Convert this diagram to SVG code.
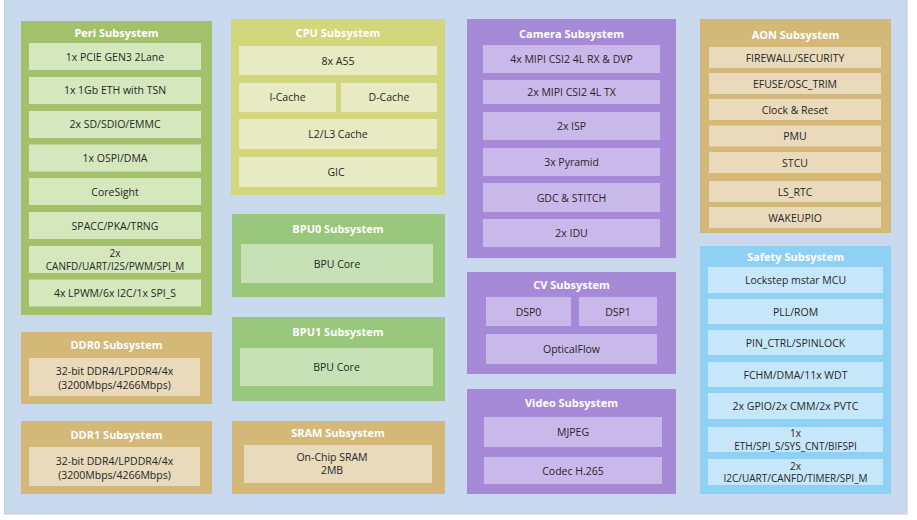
<svg xmlns="http://www.w3.org/2000/svg" width="917" height="520" viewBox="0 0 917 520">
<style>
text{font-family:"Open Sans","Noto Sans","Liberation Sans",sans-serif;font-size:10.5px;fill:#262626;text-anchor:middle;dominant-baseline:central}
.t{font-weight:bold;fill:#ffffff;font-size:11px}
.s{font-size:10px}
.g1{fill:#A3C16A}.g1i{fill:#D5E8BD}
.tan{fill:#D3B877}.tani{fill:#E8DABA}
.cpu{fill:#D2D67C}.cpui{fill:#E7EAC2}
.bpu{fill:#99C87C}.bpui{fill:#C6E1B5}
.pur{fill:#A68AD8}.puri{fill:#C9B9EA}
.sky{fill:#8FD0F5}.skyi{fill:#C6E6FA}
</style>
<rect x="0" y="0" width="917" height="520" fill="#ffffff"/>
<rect x="4.5" y="-1" width="902.5" height="515" fill="#C9D9EE" stroke="#C4C8D0" stroke-width="1"/>

<g id="peri">
<rect class="g1" x="21" y="21" width="191" height="294"/>
<text class="t" x="116.5" y="32">Peri Subsystem</text>
<rect class="g1i" x="29" y="43" width="172" height="27"/><text x="115" y="56.5">1x PCIE GEN3 2Lane</text>
<rect class="g1i" x="29" y="77" width="172" height="27"/><text x="115" y="90">1x 1Gb ETH with TSN</text>
<rect class="g1i" x="29" y="111" width="172" height="27"/><text x="115" y="124">2x SD/SDIO/EMMC</text>
<rect class="g1i" x="29" y="144.5" width="172" height="27"/><text x="115" y="158">1x OSPI/DMA</text>
<rect class="g1i" x="29" y="178" width="172" height="27"/><text x="115" y="191.5">CoreSight</text>
<rect class="g1i" x="29" y="212" width="172" height="27"/><text x="115" y="225.5">SPACC/PKA/TRNG</text>
<rect class="g1i" x="29" y="246" width="172" height="27"/><text class="s" x="115" y="253">2x</text><text class="s" x="115" y="265.5">CANFD/UART/I2S/PWM/SPI_M</text>
<rect class="g1i" x="29" y="279.5" width="172" height="27"/><text x="115" y="293">4x LPWM/6x I2C/1x SPI_S</text>
</g>

<g id="ddr0">
<rect class="tan" x="21" y="332" width="191" height="72"/>
<text class="t" x="116.5" y="344">DDR0 Subsystem</text>
<rect class="tani" x="29" y="358" width="171" height="38"/>
<text x="114.5" y="371">32-bit DDR4/LPDDR4/4x</text><text x="114.5" y="384.5">(3200Mbps/4266Mbps)</text>
</g>

<g id="ddr1">
<rect class="tan" x="21" y="421" width="191" height="73"/>
<text class="t" x="116.5" y="434">DDR1 Subsystem</text>
<rect class="tani" x="29" y="447" width="171" height="39"/>
<text x="114.5" y="461">32-bit DDR4/LPDDR4/4x</text><text x="114.5" y="474.5">(3200Mbps/4266Mbps)</text>
</g>

<g id="cpu">
<rect class="cpu" x="231" y="19" width="214" height="176"/>
<text class="t" x="338" y="32">CPU Subsystem</text>
<rect class="cpui" x="239" y="46" width="198" height="29"/><text x="338" y="60.5">8x A55</text>
<rect class="cpui" x="239" y="83" width="97" height="29"/><text x="287.5" y="97">I-Cache</text>
<rect class="cpui" x="341" y="83" width="96" height="29"/><text x="389" y="97">D-Cache</text>
<rect class="cpui" x="239" y="119" width="198" height="30"/><text x="338" y="134">L2/L3 Cache</text>
<rect class="cpui" x="239" y="157" width="198" height="30"/><text x="336" y="171.5">GIC</text>
</g>

<g id="bpu0">
<rect class="bpu" x="232" y="214" width="213" height="83"/>
<text class="t" x="338" y="228">BPU0 Subsystem</text>
<rect class="bpui" x="241" y="244" width="192" height="39"/><text x="337" y="264">BPU Core</text>
</g>

<g id="bpu1">
<rect class="bpu" x="232" y="317" width="213" height="84"/>
<text class="t" x="338" y="331">BPU1 Subsystem</text>
<rect class="bpui" x="240" y="348" width="193" height="38"/><text x="336.5" y="367">BPU Core</text>
</g>

<g id="sram">
<rect class="tan" x="232" y="421" width="213" height="73"/>
<text class="t" x="338" y="432">SRAM Subsystem</text>
<rect class="tani" x="244" y="445" width="188" height="38"/>
<text x="332" y="457">On-Chip SRAM</text><text x="332" y="470">2MB</text>
</g>

<g id="camera">
<rect class="pur" x="467" y="19" width="209" height="239"/>
<text class="t" x="571.5" y="33">Camera Subsystem</text>
<rect class="puri" x="483" y="45" width="177" height="28"/><text x="571.5" y="59">4x MIPI CSI2 4L RX &amp; DVP</text>
<rect class="puri" x="483" y="80" width="177" height="24"/><text x="571.5" y="92">2x MIPI CSI2 4L TX</text>
<rect class="puri" x="483" y="112" width="177" height="28"/><text x="571.5" y="126">2x ISP</text>
<rect class="puri" x="483" y="148" width="177" height="28"/><text x="571.5" y="161.5">3x Pyramid</text>
<rect class="puri" x="483" y="183" width="177" height="29"/><text x="571.5" y="197.5">GDC &amp; STITCH</text>
<rect class="puri" x="483" y="219" width="177" height="28"/><text x="571.5" y="232.5">2x IDU</text>
</g>

<g id="cv">
<rect class="pur" x="467" y="272" width="209" height="102"/>
<text class="t" x="571.5" y="284">CV Subsystem</text>
<rect class="puri" x="486" y="297" width="85" height="29"/><text x="528.5" y="311.5">DSP0</text>
<rect class="puri" x="579" y="297" width="78" height="29"/><text x="618" y="311.5">DSP1</text>
<rect class="puri" x="486" y="334" width="171" height="30"/><text x="571.5" y="349">OpticalFlow</text>
</g>

<g id="video">
<rect class="pur" x="467" y="389" width="209" height="105"/>
<text class="t" x="571.5" y="402">Video Subsystem</text>
<rect class="puri" x="484" y="417" width="178" height="30"/><text x="573" y="432">MJPEG</text>
<rect class="puri" x="484" y="457" width="178" height="27"/><text x="573" y="470.5">Codec H.265</text>
</g>

<g id="aon">
<rect class="tan" x="700" y="19" width="191" height="214"/>
<text class="t" x="795.5" y="34">AON Subsystem</text>
<rect class="tani" x="709" y="47" width="172" height="21"/><text x="795" y="57.5">FIREWALL/SECURITY</text>
<rect class="tani" x="709" y="73" width="172" height="21"/><text x="795" y="83.5">EFUSE/OSC_TRIM</text>
<rect class="tani" x="709" y="99" width="172" height="21"/><text x="795" y="109.5">Clock &amp; Reset</text>
<rect class="tani" x="709" y="125.5" width="172" height="21"/><text x="795" y="136">PMU</text>
<rect class="tani" x="709" y="152" width="172" height="21"/><text x="795" y="162.5">STCU</text>
<rect class="tani" x="709" y="181" width="172" height="21"/><text x="795" y="191.5">LS_RTC</text>
<rect class="tani" x="709" y="207" width="172" height="21"/><text x="795" y="217.5">WAKEUPIO</text>
</g>

<g id="safety">
<rect class="sky" x="700" y="246" width="191" height="248"/>
<text class="t" x="795.5" y="256">Safety Subsystem</text>
<rect class="skyi" x="708" y="267" width="175" height="26"/><text x="795.5" y="280">Lockstep mstar MCU</text>
<rect class="skyi" x="708" y="299" width="175" height="25"/><text x="795.5" y="311.5">PLL/ROM</text>
<rect class="skyi" x="708" y="330" width="175" height="25"/><text x="795.5" y="342.5">PIN_CTRL/SPINLOCK</text>
<rect class="skyi" x="708" y="362" width="175" height="25"/><text x="795.5" y="374.5">FCHM/DMA/11x WDT</text>
<rect class="skyi" x="708" y="393" width="175" height="26"/><text x="795.5" y="406">2x GPIO/2x CMM/2x PVTC</text>
<rect class="skyi" x="708" y="427" width="175" height="25"/><text class="s" x="795.5" y="433">1x</text><text class="s" x="795.5" y="445.5">ETH/SPI_S/SYS_CNT/BIFSPI</text>
<rect class="skyi" x="708" y="459" width="175" height="26"/><text class="s" x="795.5" y="465.5">2x</text><text class="s" x="795.5" y="478">I2C/UART/CANFD/TIMER/SPI_M</text>
</g>

<g id="connectors"></g>
</svg>
